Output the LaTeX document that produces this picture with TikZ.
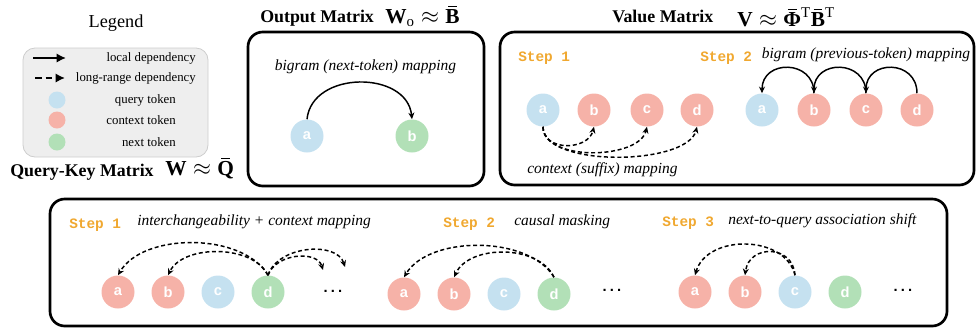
\documentclass[tikz,border=0pt]{standalone}
\usepackage{fontspec}
\setmainfont{Liberation Serif}
\setsansfont{Liberation Sans}
\setmonofont{Liberation Mono}
\usetikzlibrary{arrows.meta}
\definecolor{qcol}{RGB}{197,225,240}
\definecolor{ccol}{RGB}{246,178,168}
\definecolor{ncol}{RGB}{178,224,183}
\definecolor{stepcol}{RGB}{240,168,48}
\definecolor{legfill}{RGB}{238,238,238}
\definecolor{legdraw}{RGB}{205,205,205}
\newcommand\barred[1]{\leavevmode\vbox{\offinterlineskip\ialign{\hfil##\hfil\cr\rule{0.42em}{0.06em}\cr\noalign{\kern0.08em}#1\cr}}}
\newcommand\approxsym{\hspace{0.3em}$\approx$\hspace{0.3em}}
\newcommand\tokdots{.\hspace{2.4pt}.\hspace{2.4pt}.}
\tikzset{
 tok/.style={circle, minimum size=24.75pt, inner sep=0pt, font=\sffamily\bfseries\fontsize{11}{11}\selectfont, text=white},
 qt/.style={tok, fill=qcol}, ct/.style={tok, fill=ccol}, nt/.style={tok, fill=ncol},
 legdot/.style={circle, minimum size=12.75pt, inner sep=0pt},
 panel/.style={draw, line width=2pt, rounded corners=11pt},
 title/.style={anchor=base west, inner sep=0pt, font=\bfseries\fontsize{13.4}{14}\selectfont},
 mathlbl/.style={anchor=base west, inner sep=0pt, font=\bfseries\fontsize{16}{17}\selectfont},
 steplbl/.style={anchor=west, inner sep=0pt, text=stepcol, font=\ttfamily\bfseries\fontsize{10.8}{11}\selectfont},
 desc/.style={anchor=west, inner sep=0pt, font=\itshape\fontsize{11.6}{12}\selectfont},
 dotsl/.style={inner sep=0pt, font=\sffamily\bfseries\fontsize{11}{11}\selectfont},
 loc/.style={line width=1.1pt, -{Stealth[length=5pt,width=4.5pt]}},
 lng/.style={loc, dash pattern=on 3pt off 2pt},
 legtxt/.style={anchor=east, inner sep=0pt, font=\fontsize{9.6}{10}\selectfont},
 legarrow/.style={line width=2.2pt, -{Latex[length=7pt,width=7pt]}},
}
\begin{document}
\begin{tikzpicture}[x=0.75pt,y=-0.75pt]
\useasboundingbox (0,0) rectangle (976,333);

% ---------- Legend ----------
\node[anchor=base, inner sep=0pt, font=\fontsize{13.7}{14}\selectfont] (legtitle) at (116,27) {Legend};
\draw[fill=legfill, draw=legdraw, line width=0.6pt, rounded corners=9pt] (23,48) rectangle (208,157);
\coordinate (l1s) at (33,58); \coordinate (l1e) at (66,58);
\coordinate (l2s) at (35,78); \coordinate (l2e) at (65,78);
\draw[legarrow] (l1s) -- (l1e);
\draw[legarrow, dash pattern=on 5pt off 3pt] (l2s) -- (l2e);
\node[legtxt] (lt1) at (196,58) {local dependency};
\node[legtxt] (lt2) at (196,78) {long-range dependency};
\node[legdot, fill=qcol] (lq) at (57,100) {};
\node[legdot, fill=ccol] (lc) at (57,120) {};
\node[legdot, fill=ncol] (ln) at (57,142) {};
\node[legtxt] (lt3) at (176,100) {query token};
\node[legtxt] (lt4) at (176,120) {context token};
\node[legtxt] (lt5) at (176,142) {next token};

% ---------- Output Matrix ----------
\node[title] (otitle) at (260,22) {Output Matrix};
\node[mathlbl] (omath) at (385,23) {W\textsubscript{\mdseries o}\approxsym\barred{B}};
\draw[panel] (248,32) rectangle (484,186);
\node[desc, anchor=center] (odesc) at (365.5,67) {bigram (next-token) mapping};
\node[qt] (oa) at (307,136) {a};
\node[nt] (ob) at (412,136) {b};
\draw[loc] (oa.north) .. controls +(5,-49) and +(-5,-49) .. (ob.north);

% ---------- Value Matrix ----------
\node[title] (vtitle) at (612,22) {Value Matrix};
\node[mathlbl] (vmath) at (737,26) {V\approxsym\barred{Φ}\textsuperscript{\mdseries T}\barred{B}\textsuperscript{\mdseries T}};
\draw[panel] (500,32) rectangle (974,185);
\node[steplbl] (vs1) at (518,58) {Step 1};
\node[steplbl] (vs2) at (700,58) {Step 2};
\node[desc, anchor=center] (vdesc2) at (866,55) {bigram (previous-token) mapping};
\node[desc, anchor=center] (vdesc1) at (602.5,170) {context (suffix) mapping};
\node[qt] (v1a) at (543,110) {a};
\node[ct] (v1b) at (594,110) {b};
\node[ct] (v1c) at (647,110) {c};
\node[ct] (v1d) at (697,110) {d};
\draw[lng] (v1a.south) .. controls +(0,25) and +(-6,24) .. (v1b.south);
\draw[lng] (v1a.south) .. controls +(0,35) and +(-8,33) .. (v1c.south);
\draw[lng] (v1a.south) .. controls +(0,41) and +(-10,39) .. (v1d.south);
\node[qt] (v2a) at (762,110) {a};
\node[ct] (v2b) at (814,110) {b};
\node[ct] (v2c) at (866,110) {c};
\node[ct] (v2d) at (917,110) {d};
\draw[loc] (v2b.north) .. controls +(0,-34) and +(0,-34) .. (v2a.north);
\draw[loc] (v2c.north) .. controls +(0,-34) and +(0,-34) .. (v2b.north);
\draw[loc] (v2d.north) .. controls +(0,-34) and +(0,-34) .. (v2c.north);

% ---------- Query-Key Matrix ----------
\node[title] (qtitle) at (10,176) {Query-Key Matrix};
\node[mathlbl] (qmath) at (165,175) {W\approxsym\barred{Q}};
\draw[panel] (50,199) rectangle (947,326);

% Step 1
\node[steplbl] (qs1) at (69,225) {Step 1};
\node[desc] (qd1) at (137,222) {interchangeability + context mapping};
\node[ct] (q1a) at (118,292) {a};
\node[ct] (q1b) at (168,292) {b};
\node[qt] (q1c) at (218,292) {c};
\node[nt] (q1d) at (268,292) {d};
\node[dotsl] (q1dots) at (333,291) {\tokdots};
\coordinate (e1) at (323,270);
\coordinate (e2) at (345,267);
\draw[lng] (q1d.north) .. controls +(-25,-43) and +(25,-43) .. (q1a.north);
\draw[lng] (q1d.north) .. controls +(-15,-31) and +(15,-31) .. (q1b.north);
\draw[lng] (q1d.north) .. controls +(8,-22) and +(-6,-20) .. (e1);
\draw[lng] (q1d.north) .. controls +(10,-30) and +(-8,-26) .. (e2);

% Step 2
\node[steplbl] (qs2) at (443,224) {Step 2};
\node[desc] (qd2) at (514,222) {causal masking};
\node[ct] (q2a) at (404,294) {a};
\node[ct] (q2b) at (454,294) {b};
\node[qt] (q2c) at (504,294) {c};
\node[nt] (q2d) at (554,294) {d};
\node[dotsl] (q2dots) at (612,290) {\tokdots};
\draw[lng] (q2d.north) .. controls +(-25,-42) and +(25,-42) .. (q2a.north);
\draw[lng] (q2d.north) .. controls +(-15,-33) and +(15,-33) .. (q2b.north);

% Step 3
\node[steplbl] (qs3) at (662,223) {Step 3};
\node[desc] (qd3) at (728,221) {next-to-query association shift};
\node[ct] (q3a) at (695,292) {a};
\node[ct] (q3b) at (745,292) {b};
\node[qt] (q3c) at (795,292) {c};
\node[nt] (q3d) at (845,292) {d};
\node[dotsl] (q3dots) at (903,290) {\tokdots};
\draw[lng] (q3c.north) .. controls +(-10,-41) and +(12,-41) .. (q3a.north);
\draw[lng] (q3c.north) .. controls +(-2,-31) and +(4,-31) .. (q3b.north);
\end{tikzpicture}
\end{document}
